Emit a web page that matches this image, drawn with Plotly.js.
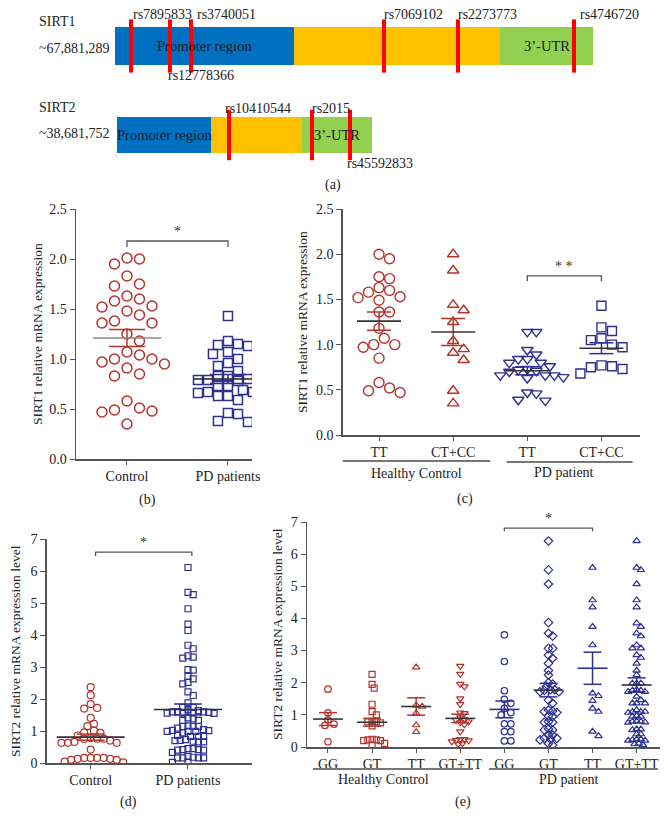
<!DOCTYPE html>
<html>
<head>
<meta charset="utf-8">
<script src="https://cdn.plot.ly/plotly-3.0.1.min.js"></script>
<style>
  html, body { margin: 0; padding: 0; background: #fff; }
  #fig { width: 668px; height: 828px; }
</style>
</head>
<body>
<div id="fig"></div>
<script>
// ---- (a) gene diagrams: region boundaries (schematic units) and SNPs
var sirt1Bounds = [0, 179, 385, 478];      // promoter | coding | 3'-UTR
var sirt2Bounds = [2, 96, 187, 257];
var regionNames = ["Promoter region", "", "3\u2019-UTR"];
var sirt1Snps = ["rs7895833", "rs12778366", "rs3740051", "rs7069102", "rs2273773", "rs4746720"];
var sirt1SnpPos = [16, 55, 76, 269, 343, 459];
var sirt2Snps = ["rs10410544", "rs2015", "rs45592833"];
var sirt2SnpPos = [114, 197, 235];

// ---- (b) SIRT1 expression, Control vs PD
var bCategories = ["Control", "PD patients"];
var bControl = [2.01,1.95,2.0,1.83,1.75,1.73,1.63,1.58,1.52,1.53,1.6,1.48,1.44,1.36,1.36,1.38,1.25,1.18,1.07,1.0,0.97,0.95,1.0,1.04,0.91,0.83,0.85,0.58,0.51,0.48,0.49,0.47,0.35];
var bPD = [1.43,1.13,1.18,1.07,1.14,1.15,1.05,1.0,0.96,0.93,0.88,0.83,0.8,0.79,0.79,0.78,0.79,0.83,0.69,0.67,0.73,0.73,0.73,0.63,0.61,0.59,0.63,0.66,0.67,0.45,0.46,0.37,0.38];
var bMean = [1.21, 0.80];
var bSem = [0.085, 0.045];

// ---- (c) SIRT1 expression by genotype
var cCategories = ["TT", "CT+CC", "TT", "CT+CC"];
var cHealthyTT = [2.0,1.95,1.75,1.73,1.63,1.58,1.52,1.49,1.53,1.6,1.36,1.36,1.18,1.0,0.97,1.0,1.07,0.85,0.52,0.47,0.49,0.58];
var cHealthyCTCC = [2.0,1.82,1.44,1.38,1.25,1.04,0.91,0.95,0.83,0.49,0.35];
var cPDTT = [1.14,1.14,0.94,0.89,0.84,0.80,0.80,0.84,0.73,0.72,0.70,0.71,0.66,0.64,0.63,0.66,0.66,0.46,0.47,0.38,0.39,0.76];
var cPDCTCC = [1.43,1.15,1.19,1.07,1.05,1.0,0.97,0.77,0.75,0.73,0.76,0.68];
var cMean = [1.26, 1.14, 0.71, 0.96];
var cSem = [0.10, 0.15, 0.045, 0.06];

// ---- (d) SIRT2 expression, Control vs PD
var dCategories = ["Control", "PD patients"];
var dControl = [2.37,2.12,1.84,1.70,1.72,1.41,1.22,1.15,0.96,0.86,0.78,0.76,0.76,0.94,1.01,0.70,0.63,0.63,0.75,0.66,0.63,0.42,0.16,0.16,0.13,0.10,0.10,0.13,0.16,0.16,0.02,0.04];
var dPD = [6.11,5.33,5.26,4.82,4.34,4.14,3.57,3.68,3.31,3.28,3.35,2.90,2.92,2.71,2.63,2.52,2.47,2.22,2.11,1.88,
  1.74,1.64,1.61,1.60,1.58,1.60,1.66,1.74,1.56,1.56,1.55,1.57,1.41,1.33,1.33,1.38,1.16,1.09,1.14,1.04,1.14,1.14,
  0.99,0.99,1.02,0.99,1.01,0.86,0.83,0.83,0.83,0.94,0.71,0.68,0.66,0.73,0.66,0.70,0.42,0.40,0.33,0.45,0.42,0.40,0.45,
  0.16,0.16,0.16,0.21,0.18,0.16,0.02,0.03];
var dMean = [0.81, 1.67];
var dSem = [0.10, 0.17];

// ---- (e) SIRT2 expression by genotype
var eCategories = ["GG", "GT", "TT", "GT+TT", "GG", "GT", "TT", "GT+TT"];
var eHealthyGG = [1.80,1.06,0.84,0.71,0.67,0.16];
var eHealthyGT = [2.26,1.95,1.83,1.33,1.10,1.00,0.80,0.78,0.75,0.78,0.66,0.22,0.20,0.24,0.20,0.22,0.11,0.06];
var eHealthyTT = [2.48,1.30,1.26,1.05,0.68,0.47];
var eHealthyGTTT = [2.52,2.27,1.96,1.88,1.51,1.33,1.07,1.05,0.84,0.79,0.86,0.76,0.48,0.24,0.20,0.17,0.22,0.24,0.09,0.11,0.70,0.92];
var ePDGG = [3.49,2.66,1.75,1.48,1.36,1.20,1.00,1.07,0.72,0.72,0.48,0.48,0.19,0.19];
var ePDGT = [6.41,5.51,5.07,3.87,3.54,3.45,3.07,3.07,2.76,2.86,2.60,2.24,2.38,1.88,1.96,2.00,1.76,1.78,1.72,1.78,1.72,1.36,1.46,1.10,1.15,1.12,1.07,0.95,0.97,0.77,0.77,0.79,0.56,0.53,0.53,0.37,0.37,0.22,0.27,0.27,0.24,0.11,0.06];
var ePDTT = [5.58,4.57,4.35,3.74,3.17,1.67,1.59,1.44,1.20,1.10,0.48,0.34];
var ePDGTTT = [6.41,5.58,5.51,5.07,4.57,4.35,3.85,3.74,3.54,3.45,3.17,3.07,3.07,2.86,2.78,2.60,2.24,2.38,1.98,1.98,1.98,1.78,1.76,1.72,1.76,1.72,1.57,1.46,1.36,1.36,1.36,1.10,1.10,1.15,1.10,1.07,0.95,0.95,0.97,0.77,0.79,0.79,0.76,0.80,0.55,0.55,0.53,0.40,0.40,0.24,0.20,0.24,0.22,0.20,0.09,0.06,0.11];
var eMean = [0.87, 0.77, 1.26, 0.89, 1.17, 1.77, 2.45, 1.93];
var eSem = [0.20, 0.12, 0.27, 0.13, 0.26, 0.21, 0.50, 0.22];

// ---------------------------------------------------------------
var W = 668, H = 828;
function px(x) { return x / W; }
function py(y) { return 1 - y / H; }

var FONT = "Liberation Serif, Times New Roman, serif";
var RED = "#b3342d", BLUE = "#2e3092", AXIS = "#555";
var regionColors = ["#0070c0", "#ffc000", "#92d050"];
// small sideways nudges of some SNP labels (px), as in the original
var labelShift = {rs7895833: 0, rs3740051: 4, rs4746720: 4, rs12778366: -4, rs10410544: -6, rs45592833: -5};

var traces = [];
var annotations = [];
var shapes = [];

function note(text, x, y, opts) {
  var a = {text: text, x: x, y: y, xref: "paper", yref: "paper", showarrow: false,
    xanchor: "center", yanchor: "middle",
    font: {family: FONT, size: 14, color: "#222"}};
  for (var k in opts) a[k] = opts[k];
  annotations.push(a);
}

// --- panel (a)
function gene(bounds, snps, snpPos, yc, h, topGap) {
  var starts = bounds.slice(0, 3);
  var lens = starts.map(function (s, i) { return bounds[i + 1] - s; });
  traces.push({type: "bar", orientation: "h", x: lens, base: starts, y: [yc, yc, yc], width: h,
    marker: {color: regionColors, line: {width: 0}}, xaxis: "x", yaxis: "y", hoverinfo: "skip"});
  traces.push({type: "scatter", mode: "markers", x: snpPos, y: snpPos.map(function () { return yc; }),
    marker: {symbol: "line-ns", size: h, line: {color: "#ff0000", width: 4}},
    xaxis: "x", yaxis: "y", hoverinfo: "skip"});
  snps.forEach(function (name, i) {
    var below = (name === "rs12778366" || name === "rs45592833");
    var dx = labelShift[name] !== undefined ? labelShift[name] : -2;
    annotations.push({text: name, x: snpPos[i] + dx, y: below ? yc + h / 2 + 10 : yc - h / 2 - topGap,
      xref: "x", yref: "y", xanchor: "left", yanchor: "middle", showarrow: false,
      font: {family: FONT, size: 14, color: "#222"}});
  });
  regionNames.forEach(function (r, i) {
    if (!r) return;
    annotations.push({text: r, x: (bounds[i] + bounds[i + 1]) / 2, y: yc, xref: "x", yref: "y",
      xanchor: "center", yanchor: "middle",
      showarrow: false, font: {family: FONT, size: 14.5, color: "#1a1a2a"}});
  });
}
gene(sirt1Bounds, sirt1Snps, sirt1SnpPos, 46, 38, 13);
gene(sirt2Bounds, sirt2Snps, sirt2SnpPos, 135, 36, 9);
note("SIRT1", px(37), py(21), {xanchor: "left"});
note("~67,881,289", px(37), py(48), {xanchor: "left"});
note("SIRT2", px(37), py(107), {xanchor: "left"});
note("~38,681,752", px(37), py(133), {xanchor: "left"});
note("(a)", px(333), py(185));

// --- dot plots
// simple beeswarm: spread points sideways so markers do not overlap
function swarm(vals, center, pxX, pxY, gap) {
  var order = vals.map(function (v, i) { return i; }).sort(function (a, b) { return vals[b] - vals[a]; });
  var placed = [], xs = new Array(vals.length);
  order.forEach(function (i) {
    var y = vals[i] * pxY, off = 0;
    for (var n = 0; n < 400; n++) {
      var cand = n === 0 ? 0 : (n % 2 ? 1 : -1) * Math.ceil(n / 2) * gap / 2;
      var ok = placed.every(function (p) { return Math.hypot(p.x - cand, p.y - y) >= gap; });
      if (ok) { off = cand; break; }
    }
    placed.push({x: off, y: y});
    xs[i] = center + off / pxX;
  });
  return xs;
}

function dotPanel(xa, ya, groups, means, sems, o) {
  groups.forEach(function (g, i) {
    traces.push({type: "scatter", mode: "markers", xaxis: xa, yaxis: ya, hoverinfo: "skip",
      x: swarm(g.vals, i, o.pxX, o.pxY, g.gap || o.gap), y: g.vals,
      marker: {symbol: g.sym, size: g.size || o.size, color: "rgba(0,0,0,0)",
        line: {color: g.color, width: o.lw}}});
  });
  groups.forEach(function (g, i) {
    var m = means[i], s = sems[i], mw = o.meanW / o.pxX, cw = o.capW / o.pxX;
    traces.push({type: "scatter", mode: "lines", xaxis: xa, yaxis: ya, hoverinfo: "skip",
      x: [i, i, null, i - cw, i + cw, null, i - cw, i + cw], y: [m - s, m + s, null, m + s, m + s, null, m - s, m - s],
      line: {color: g.color, width: 1.5}});
    traces.push({type: "scatter", mode: "lines", xaxis: xa, yaxis: ya, hoverinfo: "skip",
      x: [i - mw, i + mw], y: [m, m], line: {color: g.meanColor || "#333", width: 1.6}});
  });
}

dotPanel("x2", "y2", [
  {vals: bControl, sym: "circle", color: RED, meanColor: "#888", gap: 12.5},
  {vals: bPD, sym: "square", color: BLUE, meanColor: "#222", size: 9, gap: 10}
], bMean, bSem, {pxX: 101, pxY: 100, size: 10, lw: 1.5, gap: 12, meanW: 34, capW: 18});

dotPanel("x3", "y3", [
  {vals: cHealthyTT, sym: "circle", color: RED},
  {vals: cHealthyCTCC, sym: "triangle-up", color: RED},
  {vals: cPDTT, sym: "triangle-down", color: BLUE, gap: 9},
  {vals: cPDCTCC, sym: "square", color: BLUE, size: 9}
], cMean, cSem, {pxX: 74, pxY: 90.4, size: 10, lw: 1.4, gap: 10.5, meanW: 22, capW: 12});

dotPanel("x4", "y4", [
  {vals: dControl, sym: "circle", color: RED, size: 7, gap: 6.5},
  {vals: dPD, sym: "square", color: BLUE, size: 6, gap: 5.2}
], dMean, dSem, {pxX: 97.3, pxY: 32, size: 7, lw: 1.2, gap: 7, meanW: 34, capW: 14});

dotPanel("x5", "y5", [
  {vals: eHealthyGG, sym: "circle", color: RED, gap: 6},
  {vals: eHealthyGT, sym: "square", color: RED, size: 6},
  {vals: eHealthyTT, sym: "triangle-up", color: RED, gap: 6},
  {vals: eHealthyGTTT, sym: "triangle-down", color: RED},
  {vals: ePDGG, sym: "circle", color: BLUE, meanColor: BLUE, gap: 6.5},
  {vals: ePDGT, sym: "diamond", color: BLUE},
  {vals: ePDTT, sym: "triangle-up", color: BLUE, meanColor: BLUE, gap: 6},
  {vals: ePDGTTT, sym: "triangle-up", color: BLUE}
], eMean, eSem, {pxX: 44.1, pxY: 32.14, size: 6.5, lw: 1.2, gap: 4.2, meanW: 15, capW: 9});

// axes
function xAxis(x0, x1, range, cats, anchor) {
  return {domain: [px(x0), px(x1)], range: range, anchor: anchor, showgrid: false, zeroline: false,
    showline: true, linecolor: AXIS, linewidth: 1.5, ticks: "outside", ticklen: 4, tickcolor: AXIS,
    tickvals: cats.map(function (c, i) { return i; }), ticktext: cats,
    tickfont: {family: FONT, size: 14, color: "#222"}};
}
function yAxis(y0, y1, range, dtick, fmt, anchor) {
  return {domain: [py(y0), py(y1)], range: range, anchor: anchor, showgrid: false, zeroline: false,
    showline: true, linecolor: AXIS, linewidth: 1.5, ticks: "outside", ticklen: 5, tickcolor: AXIS,
    dtick: dtick, tickformat: fmt, tickfont: {family: FONT, size: 14, color: "#222"}};
}

// titles, brackets, group lines
function ytitle(text, x, y) { note(text, px(x), py(y), {textangle: -90, font: {family: FONT, size: 13.5, color: "#222"}}); }
ytitle("SIRT1 relative mRNA expression", 37, 334);
ytitle("SIRT1 relative mRNA expression", 303, 322);
ytitle("SIRT2 relative mRNA expression level", 15, 651);
ytitle("SIRT2 relative mRNA expression level", 277, 634);

function bracket(xa, ya, x0, x1, y, drop, stars) {
  shapes.push({type: "path", xref: xa, yref: ya,
    path: "M" + x0 + "," + (y - drop) + " L" + x0 + "," + y + " L" + x1 + "," + y + " L" + x1 + "," + (y - drop),
    line: {color: AXIS, width: 1.3}});
  annotations.push({text: stars, x: (x0 + x1) / 2, y: y, xref: xa, yref: ya, xanchor: "center", yanchor: "bottom",
    showarrow: false, font: {family: FONT, size: 14, color: "#333"}});
}
bracket("x2", "y2", 0, 1, 2.18, 0.06, "*");
bracket("x3", "y3", 2, 3, 1.76, 0.06, "* *");
bracket("x4", "y4", 0.05, 1.04, 6.59, 0.12, "*");
bracket("x5", "y5", 4, 6, 6.81, 0.1, "*");

function groupLine(xa, x0, x1, y, label, lx, ly) {
  shapes.push({type: "line", xref: xa, yref: "paper", x0: x0, x1: x1, y0: py(y), y1: py(y),
    line: {color: "#777", width: 2}});
  annotations.push({text: label, x: lx, y: py(ly), xref: xa, yref: "paper", xanchor: "center", yanchor: "middle",
    showarrow: false, font: {family: FONT, size: 14, color: "#222"}});
}
groupLine("x3", -0.55, 1.5, 461, "Healthy Control", 0.5, 473);
groupLine("x3", 1.72, 3.42, 462, "PD patient", 2.5, 472);
groupLine("x5", -0.34, 3.29, 769, "Healthy Control", 1.25, 779);
groupLine("x5", 3.65, 7.48, 769, "PD patient", 5.47, 779);

note("(b)", px(147), py(500));
note("(c)", px(465), py(499));
note("(d)", px(128), py(802));
note("(e)", px(463), py(802));

var layout = {
  width: W, height: H, margin: {l: 0, r: 0, t: 0, b: 0},
  paper_bgcolor: "#fff", plot_bgcolor: "rgba(0,0,0,0)",
  showlegend: false, barmode: "overlay",
  font: {family: FONT, color: "#222"},
  xaxis: {domain: [0, 1], range: [-115, 553], visible: false, fixedrange: true},
  yaxis: {domain: [py(190), 1], range: [190, 0], visible: false, fixedrange: true},
  xaxis2: xAxis(76, 252, [-0.505, 1.238], bCategories, "y2"),
  yaxis2: yAxis(459, 209, [0, 2.5], 0.5, ".1f", "x2"),
  xaxis3: xAxis(342.7, 640, [-0.49, 3.52], cCategories, "y3"),
  yaxis3: yAxis(435, 209, [0, 2.5], 0.5, ".1f", "x3"),
  xaxis4: xAxis(46.7, 252, [-0.452, 1.658], dCategories, "y4"),
  yaxis4: yAxis(763, 539, [0, 7], 1, "d", "x4"),
  xaxis5: xAxis(307, 660, [-0.476, 7.53], eCategories, "y5"),
  yaxis5: yAxis(747, 522, [0, 7], 1, "d", "x5"),
  annotations: annotations,
  shapes: shapes
};

Plotly.newPlot("fig", traces, layout, {staticPlot: true, displayModeBar: false});
</script>
</body>
</html>
